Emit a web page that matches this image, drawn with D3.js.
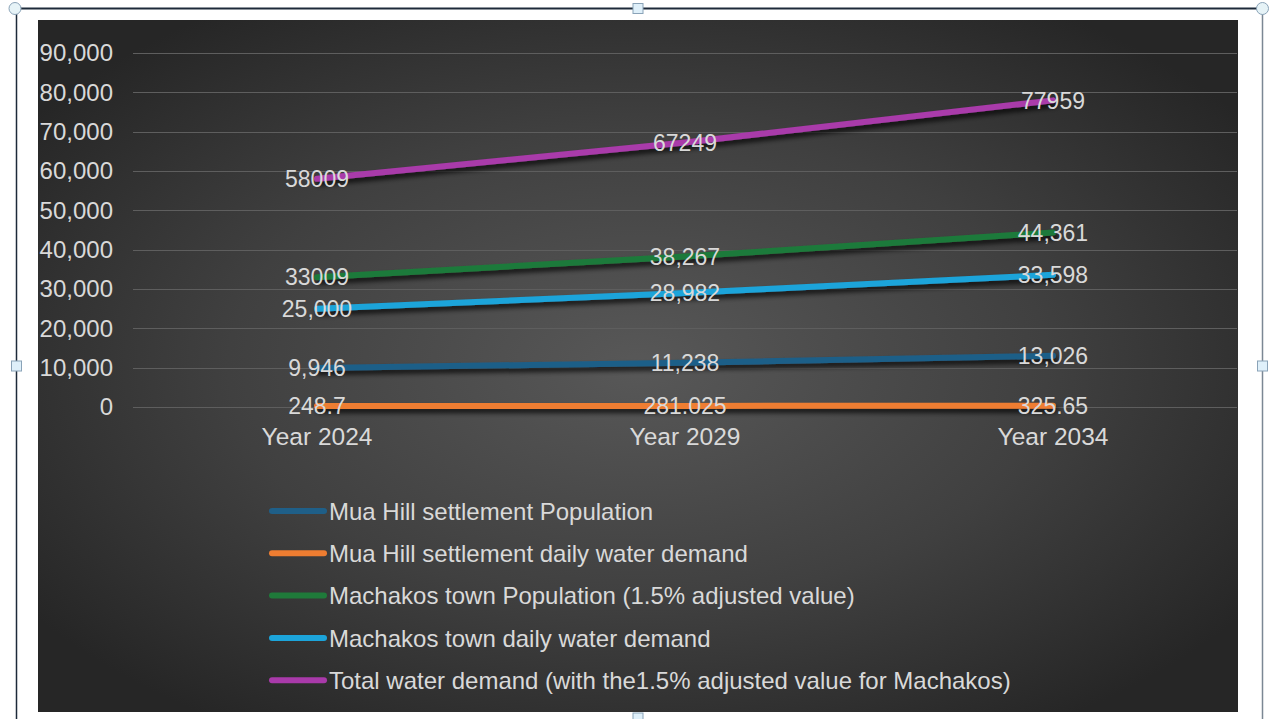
<!DOCTYPE html>
<html>
<head>
<meta charset="utf-8">
<script src="https://cdn.jsdelivr.net/npm/d3@7/dist/d3.min.js"></script>
<style>
  html, body { margin: 0; padding: 0; background: #ffffff; }
  svg { display: block; }
  text { font-family: "Liberation Sans", Arial, sans-serif; }
</style>
</head>
<body>
<svg id="chart" width="1274" height="719"></svg>
<script>
// Categories and tick labels
const years = ["Year 2024", "Year 2029", "Year 2034"];
const yTicks = [0, 10000, 20000, 30000, 40000, 50000, 60000, 70000, 80000, 90000];

// Series names
const seriesNames = [
  "Mua Hill settlement Population",
  "Mua Hill settlement daily water demand",
  "Machakos town Population (1.5% adjusted value)",
  "Machakos town daily water demand",
  "Total water demand (with the1.5% adjusted value for Machakos)"
];

// Series values
const muaPopulation = [9946, 11238, 13026];
const muaDemand = [248.7, 281.025, 325.65];
const machakosPopulation = [33009, 38267, 44361];
const machakosDemand = [25000, 28982, 33598];
const totalDemand = [58009, 67249, 77959];

// Data label text as printed on each point
const muaPopulationLabels = ["9,946", "11,238", "13,026"];
const muaDemandLabels = ["248.7", "281.025", "325.65"];
const machakosPopulationLabels = ["33009", "38,267", "44,361"];
const machakosDemandLabels = ["25,000", "28,982", "33,598"];
const totalDemandLabels = ["58009", "67249", "77959"];

const seriesColors = ["#1f5f88", "#ee7d31", "#1f7a3a", "#1ca4da", "#a93aaa"];

const series = [
  { name: seriesNames[0], values: muaPopulation, labels: muaPopulationLabels, color: seriesColors[0] },
  { name: seriesNames[1], values: muaDemand, labels: muaDemandLabels, color: seriesColors[1] },
  { name: seriesNames[2], values: machakosPopulation, labels: machakosPopulationLabels, color: seriesColors[2] },
  { name: seriesNames[3], values: machakosDemand, labels: machakosDemandLabels, color: seriesColors[3] },
  { name: seriesNames[4], values: totalDemand, labels: totalDemandLabels, color: seriesColors[4] }
];

const svg = d3.select("#chart");
const defs = svg.append("defs");

// Background gradient: lighter in the middle, dark at the edges
const grad = defs.append("radialGradient")
  .attr("id", "bg").attr("cx", "50%").attr("cy", "50%").attr("r", "62%");
grad.append("stop").attr("offset", "0%").attr("stop-color", "#585858");
grad.append("stop").attr("offset", "55%").attr("stop-color", "#404040");
grad.append("stop").attr("offset", "100%").attr("stop-color", "#262626");

// Soft drop shadow beneath the lines
const shadow = defs.append("filter").attr("id", "shadow")
  .attr("x", "-10%").attr("y", "-50%").attr("width", "120%").attr("height", "300%");
shadow.append("feDropShadow")
  .attr("dx", 2).attr("dy", 4).attr("stdDeviation", 2.5)
  .attr("flood-color", "#000").attr("flood-opacity", 0.75);

// Chart area
const area = { x: 38, y: 20, w: 1200, h: 692 };
svg.append("rect")
  .attr("x", area.x).attr("y", area.y).attr("width", area.w).attr("height", area.h)
  .attr("fill", "url(#bg)");

// Plot area and scales
const plot = { left: 133, right: 1237, top: 53, bottom: 407 };
const x = d3.scaleBand().domain(years).range([plot.left, plot.right]).padding(0);
const y = d3.scaleLinear().domain([0, 90000]).range([plot.bottom, plot.top]);
const cx = d => x(d) + x.bandwidth() / 2;

const textColor = "#d9d9d9";
const axisFont = 24;
const labelFont = 23;

// Gridlines
svg.append("g")
  .selectAll("line").data(yTicks).join("line")
  .attr("x1", plot.left).attr("x2", plot.right)
  .attr("y1", d => Math.round(y(d)) + 0.5).attr("y2", d => Math.round(y(d)) + 0.5)
  .attr("stroke", "#5e5e5e").attr("stroke-width", 1);

// Y axis labels
const yAxis = svg.append("g")
  .attr("transform", `translate(${plot.left - 20},0)`)
  .call(d3.axisLeft(y).tickValues(yTicks).tickFormat(d3.format(",")).tickSize(0).tickPadding(0));
yAxis.select(".domain").remove();
yAxis.selectAll("text")
  .attr("fill", textColor).attr("font-size", axisFont)
  .attr("font-family", "Liberation Sans, Arial, sans-serif");

// X axis labels
const xAxis = svg.append("g")
  .attr("transform", `translate(0,${plot.bottom + 21})`)
  .call(d3.axisBottom(x).tickSize(0).tickPadding(0));
xAxis.select(".domain").remove();
xAxis.selectAll("text")
  .attr("fill", textColor).attr("font-size", 24.5)
  .attr("font-family", "Liberation Sans, Arial, sans-serif");

// Lines
const line = d3.line().x((d, i) => cx(years[i])).y(d => y(d));
svg.append("g").attr("filter", "url(#shadow)")
  .selectAll("path").data(series).join("path")
  .attr("d", s => line(s.values))
  .attr("fill", "none")
  .attr("stroke", s => s.color)
  .attr("stroke-width", 6)
  .attr("stroke-linecap", "round");

// Data labels centred on each point
const labelGroup = svg.append("g");
series.forEach(s => {
  labelGroup.selectAll(null).data(s.values).join("text")
    .attr("x", (d, i) => cx(years[i]))
    .attr("y", d => y(d))
    .attr("dy", "0.36em")
    .attr("text-anchor", "middle")
    .attr("fill", textColor)
    .attr("font-size", labelFont)
    .text((d, i) => s.labels[i]);
});

// Legend
const legend = svg.append("g").attr("transform", "translate(272,511)");
const rowGap = 42.3;
const items = legend.selectAll("g").data(series).join("g")
  .attr("transform", (d, i) => `translate(0,${i * rowGap})`);
items.append("line")
  .attr("x1", 0).attr("x2", 52).attr("y1", 0).attr("y2", 0)
  .attr("stroke", d => d.color).attr("stroke-width", 6).attr("stroke-linecap", "round");
items.append("text")
  .attr("x", 57).attr("y", 0).attr("dy", "0.36em")
  .attr("fill", textColor).attr("font-size", axisFont)
  .text(d => d.name);

// Selection frame with handles
const frame = svg.append("g");
frame.append("line").attr("x1", 15).attr("x2", 1262).attr("y1", 8.5).attr("y2", 8.5)
  .attr("stroke", "#1d2a3a").attr("stroke-width", 2);
frame.append("line").attr("x1", 16.5).attr("x2", 16.5).attr("y1", 8).attr("y2", 719)
  .attr("stroke", "#1d2a3a").attr("stroke-width", 1.5);
frame.append("line").attr("x1", 1262.5).attr("x2", 1262.5).attr("y1", 8).attr("y2", 719)
  .attr("stroke", "#7b8794").attr("stroke-width", 1.5);
const squares = [[16.5, 366], [1262.5, 366], [638, 8.5], [638, 718]];
frame.selectAll("rect.h").data(squares).join("rect")
  .attr("class", "h")
  .attr("x", d => d[0] - 5).attr("y", d => d[1] - 5)
  .attr("width", 10).attr("height", 10)
  .attr("fill", "#dff0fa").attr("stroke", "#8aa3b8").attr("stroke-width", 1);
const circles = [[15, 8.5], [1262.5, 8.5]];
frame.selectAll("circle").data(circles).join("circle")
  .attr("cx", d => d[0]).attr("cy", d => d[1]).attr("r", 6)
  .attr("fill", "#e6f3f7").attr("stroke", "#8aa3b8").attr("stroke-width", 1);
</script>
</body>
</html>
